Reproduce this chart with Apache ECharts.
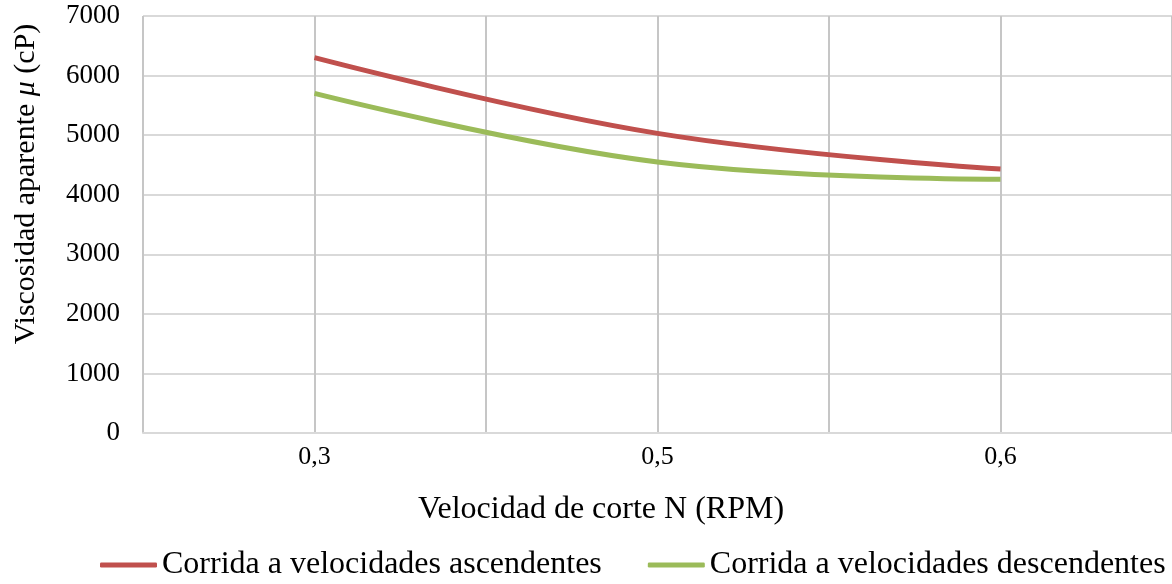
<!DOCTYPE html>
<html>
<head>
<meta charset="utf-8">
<script src="https://cdn.jsdelivr.net/npm/echarts@6/dist/echarts.min.js"></script>
<style>
  html, body { margin: 0; padding: 0; background: #ffffff; }
  #chart { width: 1172px; height: 584px; }
</style>
</head>
<body>
<div id="chart"></div>
<script>
// Shear rate categories (RPM) and apparent viscosity readings (cP)
const categories = ['0,3', '0,5', '0,6'];
const ascendentes = [6300, 5030, 4430];
const descendentes = [5700, 4550, 4260];
const yMin = 0, yMax = 7000, yStep = 1000;

const serif = "'Liberation Serif', 'Times New Roman', serif";
const chart = echarts.init(document.getElementById('chart'), null, { renderer: 'canvas' });

chart.setOption({
  backgroundColor: '#ffffff',
  animation: false,
  grid: { left: 143, right: 0, top: 16, bottom: 151, containLabel: false },
  xAxis: [
    {
      type: 'category',
      data: categories,
      boundaryGap: true,
      axisLine: { show: true, lineStyle: { color: '#d9d9d9', width: 2 } },
      axisTick: { show: false },
      axisLabel: { color: '#000', fontFamily: serif, fontSize: 26, margin: 11 },
      splitLine: { show: false }
    },
    {
      // half-category guide lines across the plot
      type: 'value',
      position: 'bottom',
      min: 0, max: 6, interval: 1,
      axisLine: { show: false },
      axisTick: { show: false },
      axisLabel: { show: false },
      splitLine: { show: true, lineStyle: { color: '#c6c6c6', width: 2 } }
    }
  ],
  yAxis: {
    type: 'value',
    min: yMin, max: yMax, interval: yStep,
    axisLine: { show: false },
    axisTick: { show: false },
    axisLabel: {
      color: '#000', fontFamily: serif, fontSize: 27, margin: 23,
      formatter: function (v) { return String(v); }
    },
    splitLine: { show: true, lineStyle: { color: '#d9d9d9', width: 2 } }
  },
  legend: {
    left: 100,
    top: 549,
    width: 1072,
    padding: 0,
    itemWidth: 57,
    itemHeight: 5,
    itemGap: 46,
    icon: 'roundRect',
    textStyle: { color: '#000', fontFamily: serif, fontSize: 32 },
    data: ['Corrida a velocidades ascendentes', 'Corrida a velocidades descendentes']
  },
  graphic: [
    {
      type: 'text',
      x: 26, y: 184,
      rotation: Math.PI / 2,
      style: {
        text: '{a|Viscosidad aparente }{i|μ}{a| (cP)}',
        align: 'center',
        verticalAlign: 'middle',
        fill: '#000',
        rich: {
          a: { fontFamily: serif, fontSize: 30, fill: '#000' },
          i: { fontFamily: serif, fontSize: 30, fontStyle: 'italic', fill: '#000' }
        }
      }
    },
    {
      type: 'text',
      x: 601, y: 510,
      style: {
        text: 'Velocidad de corte N (RPM)',
        align: 'center',
        verticalAlign: 'middle',
        fill: '#000',
        fontFamily: serif,
        fontSize: 32
      }
    }
  ],
  series: [
    {
      name: 'Corrida a velocidades ascendentes',
      type: 'line',
      xAxisIndex: 0,
      data: ascendentes,
      smooth: 0.4,
      showSymbol: false,
      symbol: 'none',
      itemStyle: { color: '#c0504d' },
      lineStyle: { color: '#c0504d', width: 5 }
    },
    {
      name: 'Corrida a velocidades descendentes',
      type: 'line',
      xAxisIndex: 0,
      data: descendentes,
      smooth: 0.4,
      showSymbol: false,
      symbol: 'none',
      itemStyle: { color: '#9bbb59' },
      lineStyle: { color: '#9bbb59', width: 5 }
    }
  ]
});
</script>
</body>
</html>
